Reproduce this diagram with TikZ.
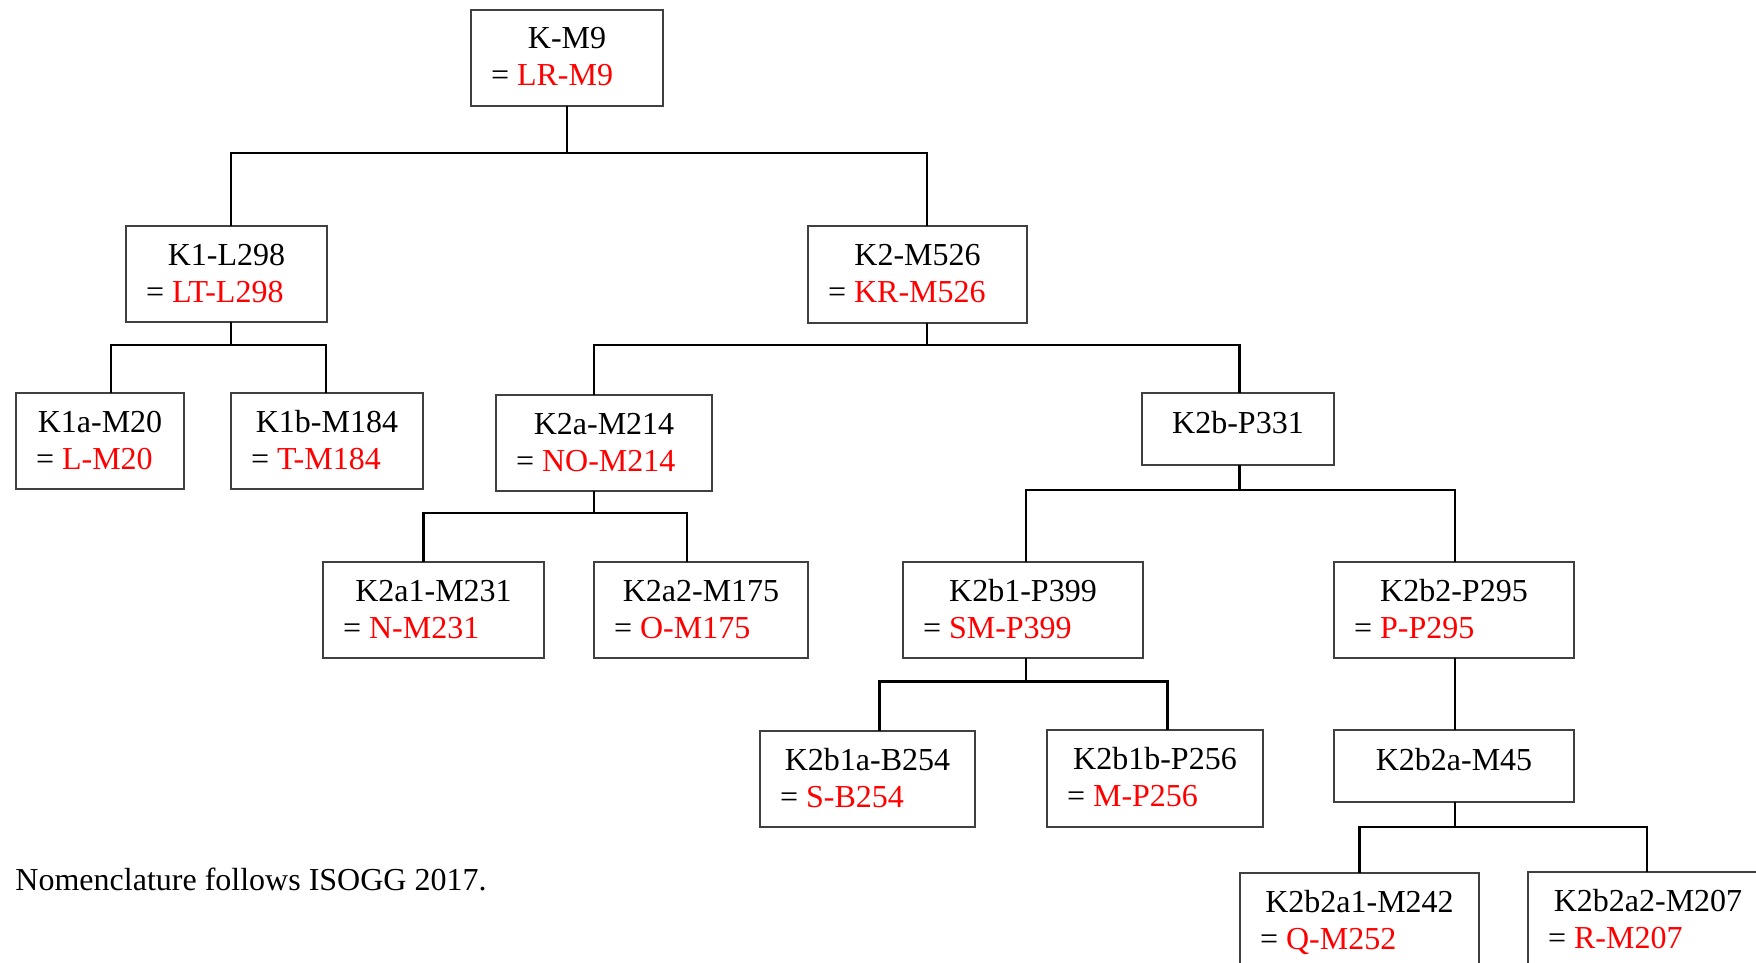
\documentclass[tikz,border=0pt]{standalone}
\usepackage{fontspec}
\setmainfont{Liberation Serif}
\usetikzlibrary{calc}

\tikzset{
  cbox/.style={draw=black!75, line width=0.7pt, rectangle, inner sep=0pt, outer sep=0pt, anchor=north west},
  clabel/.style={font=\fontsize{16}{19}\selectfont, inner sep=0pt, outer sep=0pt},
  link/.style={draw=black, line width=1.45pt, line join=miter}
}

% box with a centred name and a left-aligned red alias
\newcommand{\cladebox}[7]{%
  \node[cbox, minimum width={(#4-#2)*0.5pt}, minimum height={(#5-#3)*0.5pt}] (#1) at (#2,#3) {};
  \node[clabel, anchor=base] (#1-top) at ($(#1.north)+(0,39)$) {#6};
  \node[clabel, anchor=base west] (#1-alt) at ($(#1.north west)+(20,76)$) {= \textcolor{red}{#7}};
}
% box with a single centred name
\newcommand{\cladeboxsingle}[6]{%
  \node[cbox, minimum width={(#4-#2)*0.5pt}, minimum height={(#5-#3)*0.5pt}] (#1) at (#2,#3) {};
  \node[clabel, anchor=base] (#1-top) at ($(#1.north)+(0,40)$) {#6};
}

\begin{document}
\begin{tikzpicture}[x=0.5pt, y=-0.5pt]
  \clip (0,0) rectangle (1756,963);

  \cladebox{root}{471}{10}{663}{106}{K-M9}{LR-M9}
  \cladebox{K1}{126}{226}{327}{322}{K1-L298}{LT-L298}
  \cladebox{K2}{808}{226}{1027}{323}{K2-M526}{KR-M526}
  \cladebox{K1a}{16}{393}{184}{489}{K1a-M20}{L-M20}
  \cladebox{K1b}{231}{393}{423}{489}{K1b-M184}{T-M184}
  \cladebox{K2a}{496}{395}{712}{491}{K2a-M214}{NO-M214}
  \cladeboxsingle{K2b}{1142}{393}{1334}{465}{K2b-P331}
  \cladebox{K2a1}{323}{562}{544}{658}{K2a1-M231}{N-M231}
  \cladebox{K2a2}{594}{562}{808}{658}{K2a2-M175}{O-M175}
  \cladebox{K2b1}{903}{562}{1143}{658}{K2b1-P399}{SM-P399}
  \cladebox{K2b2}{1334}{562}{1574}{658}{K2b2-P295}{P-P295}
  \cladebox{K2b1a}{760}{731}{975}{827}{K2b1a-B254}{S-B254}
  \cladebox{K2b1b}{1047}{730}{1263}{827}{K2b1b-P256}{M-P256}
  \cladeboxsingle{K2b2a}{1334}{730}{1574}{802}{K2b2a-M45}
  \cladebox{K2b2a1}{1240}{873}{1479}{969}{K2b2a1-M242}{Q-M252}
  \cladebox{K2b2a2}{1528}{872}{1768}{968}{K2b2a2-M207}{R-M207}

  % junction points on the horizontal bars
  \coordinate (j0) at (567,153);
  \coordinate (jK1) at (231,345);
  \coordinate (jK2) at (927,345);
  \coordinate (jK2a) at (594,513);
  \coordinate (jK2b) at (1239.5,490);
  \coordinate (jK2b1) at (1026,681.5);
  \coordinate (jK2b2a) at (1455,827);

  % connectors
  \draw[link] (root.south -| j0) -- (j0);
  \draw[link] ($(K1.north)+(4.5,0)$) |- (j0) -| ($(K2.north)+(9.5,0)$);

  \draw[link] (K1.south -| jK1) -- (jK1);
  \draw[link] ($(K1a.north)+(11,0)$) |- (jK1) -| ($(K1b.north)+(-1,0)$);

  \draw[link] (K2.south -| jK2) -- (jK2);
  \draw[link] ($(K2a.north)+(-10,0)$) |- (jK2) -| ($(K2b.north)+(1.5,0)$);

  \draw[link] (K2a.south -| jK2a) -- (jK2a);
  \draw[link] ($(K2a1.north)+(-10,0)$) |- (jK2a) -| ($(K2a2.north)+(-14,0)$);

  \draw[link] (K2b.south -| jK2b) -- (jK2b);
  \draw[link] ($(K2b1.north)+(3,0)$) |- (jK2b) -| ($(K2b2.north)+(1,0)$);

  \draw[link] (K2b1.south -| jK2b1) -- (jK2b1);
  \draw[link] ($(K2b1a.north)+(12,0)$) |- (jK2b1) -| ($(K2b1b.north)+(12.5,0)$);

  \draw[link] ($(K2b2.south)+(1,0)$) -- ($(K2b2a.north)+(1,0)$);

  \draw[link] (K2b2a.south -| jK2b2a) -- (jK2b2a);
  \draw[link] (K2b2a1.north) |- (jK2b2a) -| ($(K2b2a2.north)+(-1,0)$);

  \node[clabel, anchor=base west] (note) at (15.5,890) {Nomenclature follows ISOGG 2017.};
\end{tikzpicture}
\end{document}
